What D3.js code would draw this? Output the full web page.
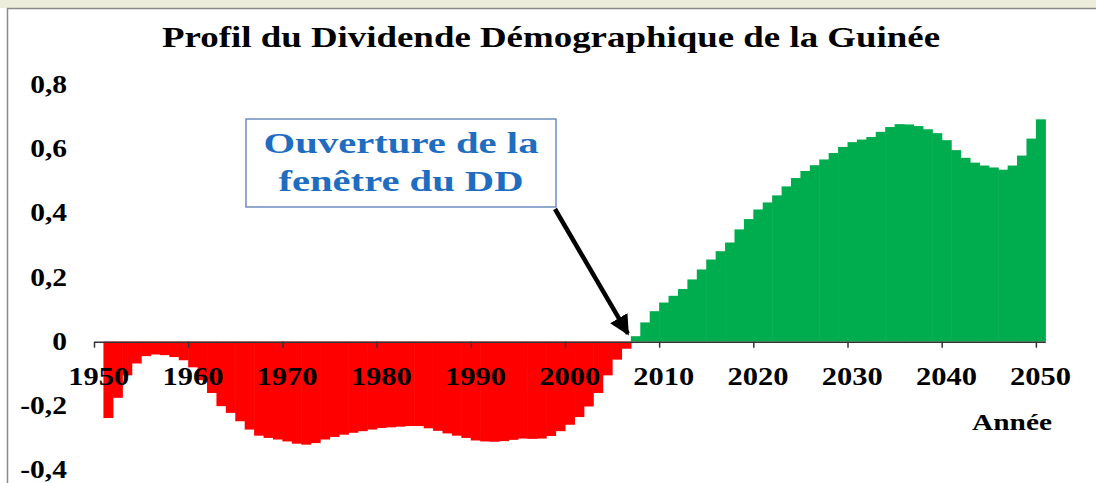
<!DOCTYPE html>
<html>
<head>
<meta charset="utf-8">
<script src="https://cdn.jsdelivr.net/npm/d3@7"></script>
<style>
  html, body { margin: 0; padding: 0; background: #fff; }
  svg { display: block; }
  text { font-family: "Liberation Serif", "Times New Roman", serif; font-weight: bold; }
</style>
</head>
<body>
<div id="chart"></div>
<script>
const title = 'Profil du Dividende Démographique de la Guinée';
const xTitle = 'Année';
const noteLines = ['Ouverture de la', 'fenêtre du DD'];
const noteYear = 2007;

// one value per year, 1950 -> 2050 (1950 has no bar)
const years = d3.range(1950, 2051);
const dividend = [
  null, -0.238, -0.175, -0.105, -0.068, -0.045, -0.040, -0.042, -0.048, -0.058,
  -0.080, -0.120, -0.160, -0.201, -0.222, -0.248, -0.274, -0.293, -0.300, -0.305,
  -0.311, -0.318, -0.321, -0.316, -0.305, -0.297, -0.290, -0.284, -0.279, -0.274,
  -0.269, -0.267, -0.265, -0.263, -0.263, -0.270, -0.278, -0.286, -0.293, -0.300,
  -0.308, -0.311, -0.312, -0.310, -0.306, -0.302, -0.303, -0.302, -0.294, -0.279,
  -0.259, -0.235, -0.202, -0.160, -0.105, -0.056, -0.022, 0.017, 0.060, 0.095,
  0.122, 0.143, 0.164, 0.194, 0.225, 0.256, 0.282, 0.309, 0.350, 0.382,
  0.412, 0.434, 0.456, 0.484, 0.510, 0.532, 0.550, 0.568, 0.588, 0.607,
  0.622, 0.630, 0.638, 0.654, 0.669, 0.678, 0.677, 0.672, 0.662, 0.650,
  0.628, 0.597, 0.573, 0.558, 0.549, 0.543, 0.536, 0.549, 0.580, 0.633,
  0.693
];

const xTickYears = [1950, 1960, 1970, 1980, 1990, 2000, 2010, 2020, 2030, 2040, 2050];
const xTickLabels = ['1950', '1960', '1970', '1980', '1990', '2000', '2010', '2020', '2030', '2040', '2050'];
const yTicks = [0.8, 0.6, 0.4, 0.2, 0, -0.2, -0.4];
const yTickLabels = ['0,8', '0,6', '0,4', '0,2', '0', '-0,2', '-0,4'];

const width = 1096, height = 483;
const data = years.map((year, i) => ({ year, value: dividend[i] })).filter(d => d.value !== null);

const svg = d3.select('#chart').append('svg')
  .attr('width', width)
  .attr('height', height);

// window frame
svg.append('rect').attr('x', 0).attr('y', 0).attr('width', width).attr('height', 8).attr('fill', '#eceedb');
svg.append('line').attr('x1', 7).attr('x2', width).attr('y1', 8.5).attr('y2', 8.5).attr('stroke', '#8a8a8a').attr('stroke-width', 1.5);
svg.append('line').attr('x1', 7.5).attr('x2', 7.5).attr('y1', 8).attr('y2', height).attr('stroke', '#8a8a8a').attr('stroke-width', 1.5);

const x = d3.scaleLinear().domain([1950, 2051]).range([94, 1045.3]);
const y = d3.scaleLinear().domain([-0.4, 0.8]).range([470, 85]);

// fits text to a target width (the picture is slightly stretched)
function fit(sel, w) {
  sel.attr('textLength', w).attr('lengthAdjust', 'spacingAndGlyphs');
}
function stretch(sel, k) {
  sel.each(function () {
    const w = this.getComputedTextLength();
    d3.select(this).attr('textLength', w * k).attr('lengthAdjust', 'spacingAndGlyphs');
  });
}

svg.append('text')
  .attr('x', 551)
  .attr('y', 47)
  .attr('text-anchor', 'middle')
  .attr('font-size', 29)
  .attr('fill', '#000')
  .text(title)
  .call(fit, 778);

// bars
svg.append('g')
  .selectAll('rect')
  .data(data)
  .join('rect')
  .attr('x', d => x(d.year))
  .attr('width', d => x(d.year + 1) - x(d.year) + 0.6)
  .attr('y', d => (d.value >= 0 ? y(d.value) : y(0)))
  .attr('height', d => Math.abs(y(d.value) - y(0)))
  .attr('fill', d => (d.value >= 0 ? '#00ad4e' : '#ff0000'));

// x axis at zero
svg.append('g')
  .attr('transform', `translate(0,${y(0)})`)
  .call(d3.axisBottom(x).tickValues(xTickYears).tickSize(6).tickSizeOuter(0).tickFormat(''))
  .call(g => g.select('.domain').attr('stroke', '#333').attr('stroke-width', 1.5))
  .call(g => g.selectAll('.tick line').attr('stroke', '#333').attr('stroke-width', 1.5));

svg.append('g')
  .selectAll('text')
  .data(xTickYears)
  .join('text')
  .attr('x', d => x(d + 0.5))
  .attr('y', 385)
  .attr('text-anchor', 'middle')
  .attr('font-size', 25)
  .text((d, i) => xTickLabels[i])
  .call(fit, 61);

// y labels
svg.append('g')
  .selectAll('text')
  .data(yTicks)
  .join('text')
  .attr('x', 67)
  .attr('y', d => y(d) + 8)
  .attr('text-anchor', 'end')
  .attr('font-size', 25)
  .text((d, i) => yTickLabels[i])
  .call(stretch, 1.18);

svg.append('text')
  .attr('x', 1012)
  .attr('y', 430)
  .attr('text-anchor', 'middle')
  .attr('font-size', 23)
  .text(xTitle)
  .call(fit, 80);

// annotation
const defs = svg.append('defs');
defs.append('marker')
  .attr('id', 'head')
  .attr('viewBox', '0 0 10 10')
  .attr('refX', 9)
  .attr('refY', 5)
  .attr('markerUnits', 'userSpaceOnUse')
  .attr('markerWidth', 20)
  .attr('markerHeight', 20)
  .attr('orient', 'auto')
  .append('path')
  .attr('d', 'M0,0 L10,5 L0,10 Z')
  .attr('fill', '#000');

svg.append('line')
  .attr('x1', 555)
  .attr('y1', 209)
  .attr('x2', x(noteYear) - 3)
  .attr('y2', y(0) - 8)
  .attr('stroke', '#000')
  .attr('stroke-width', 4.5)
  .attr('marker-end', 'url(#head)');

svg.append('rect')
  .attr('x', 246)
  .attr('y', 119)
  .attr('width', 310)
  .attr('height', 88)
  .attr('fill', '#fff')
  .attr('stroke', '#6f8dbf')
  .attr('stroke-width', 1.5);

svg.append('g')
  .selectAll('text')
  .data(noteLines)
  .join('text')
  .attr('x', 401)
  .attr('y', (d, i) => 153 + i * 38)
  .attr('text-anchor', 'middle')
  .attr('font-size', 30)
  .attr('fill', '#1f6dc0')
  .text(d => d)
  .each(function (d, i) { d3.select(this).call(fit, i === 0 ? 275 : 245); });
</script>
</body>
</html>
